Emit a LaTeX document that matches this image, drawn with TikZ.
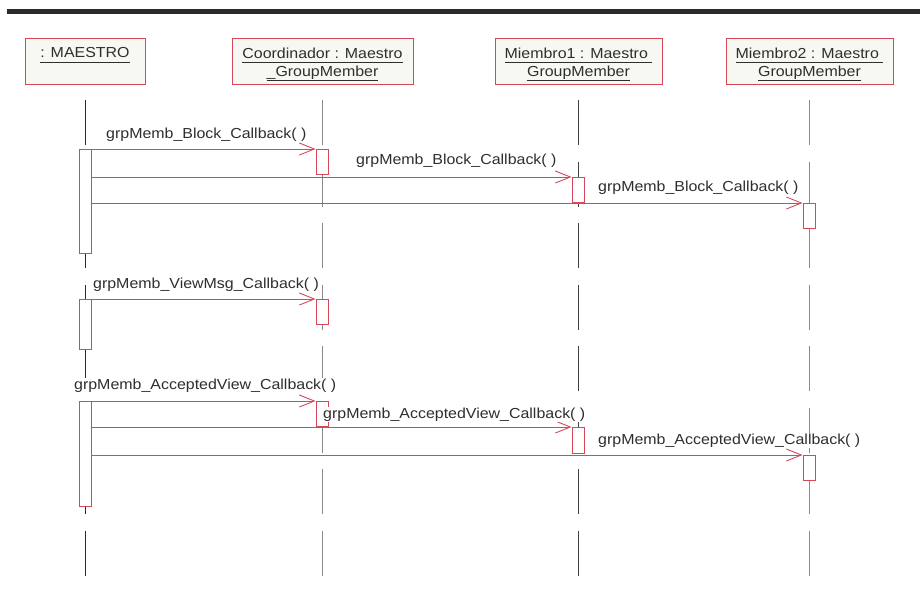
\documentclass[tikz,border=0pt]{standalone}
\usepackage{fontspec}
\setmainfont{Liberation Sans}[FakeStretch=1.1]
\usetikzlibrary{arrows.meta}

\definecolor{umlred}{HTML}{D4485A}
\definecolor{boxfill}{HTML}{F8F8F2}
\definecolor{ink}{HTML}{2E2E2E}
\definecolor{barcol}{HTML}{2A2A2A}
\definecolor{lifegray}{HTML}{8A8A8A}
\definecolor{lifedark}{HTML}{404040}

% underline drawn at a fixed depth below the baseline
\newcommand\uln[1]{\setbox0\hbox{#1}\rlap{\rule[-5pt]{\wd0}{0.8pt}}\box0}

\tikzset{
  umltext/.style={font=\fontsize{14.5}{18}\selectfont, text=ink},
  objbox/.style={draw=umlred, fill=boxfill, line width=0.9pt, inner sep=0pt},
  objname/.style={umltext, inner sep=0pt, align=center, anchor=north},
  lifeline/.style={line width=1pt, dash pattern=on 45pt off 16.5pt},
  actbox/.style={draw=umlred, fill=white, line width=0.9pt, inner sep=0pt,
                 minimum width=12pt, anchor=north},
  msg/.style={draw=umlred, line width=0.9pt,
              -{Straight Barb[length=15pt, width=12pt, line width=0.9pt]}},
  msglabel/.style={umltext, fill=white, inner sep=1pt, anchor=base west},
}

\begin{document}
\begin{tikzpicture}[x=1pt, y=-1pt]
  \useasboundingbox (0,0) rectangle (920,592);

  % heading rule
  \fill[barcol] (7,9) rectangle (920,13.5);

  % object boxes
  \node[objbox, minimum width=120pt, minimum height=46pt] (mae) at (85,61) {};
  \node[objbox, minimum width=181pt, minimum height=46pt] (coo) at (322.5,61) {};
  \node[objbox, minimum width=167pt, minimum height=46pt] (mi1) at (578.5,61) {};
  \node[objbox, minimum width=167pt, minimum height=46pt] (mi2) at (809.5,61) {};

  \node[objname] (maeT) at (85,47.5) {\uln{: MAESTRO}};
  \node[objname] (cooT) at (322.5,47.5) {\uln{Coordinador : Maestro}\\\uln{\_GroupMember}};
  \node[objname] (mi1T) at (578.5,47.5) {\uln{Miembro1 : Maestro\ }\\\uln{GroupMember}};
  \node[objname] (mi2T) at (809.5,47.5) {\uln{Miembro2 : Maestro\ }\\\uln{GroupMember}};

  % lifelines
  \coordinate (maeTop) at (85,100);   \coordinate (maeEnd) at (85,576);
  \coordinate (cooTop) at (322,100);  \coordinate (cooEnd) at (322,576);
  \coordinate (mi1Top) at (578,100);  \coordinate (mi1End) at (578,576);
  \coordinate (mi2Top) at (809,100);  \coordinate (mi2End) at (809,576);
  \draw[lifeline, draw=barcol] (maeTop) -- (maeEnd);
  \draw[lifeline, draw=lifegray] (cooTop) -- (cooEnd);
  \draw[lifeline, draw=lifedark] (mi1Top) -- (mi1End);
  \draw[lifeline, draw=lifegray] (mi2Top) -- (mi2End);

  % activation bars
  \node[actbox, minimum height=104pt] (maeA1) at (85,149) {};
  \node[actbox, minimum height=50pt]  (maeA2) at (85,299) {};
  \node[actbox, minimum height=105pt] (maeA3) at (85,401) {};
  \node[actbox, minimum height=25pt]  (cooA1) at (322,149) {};
  \node[actbox, minimum height=25pt]  (cooA2) at (322,299) {};
  \node[actbox, minimum height=25pt]  (cooA3) at (322,401) {};
  \node[actbox, minimum height=25pt]  (mi1A1) at (578,177) {};
  \node[actbox, minimum height=26pt]  (mi1A2) at (578,427) {};
  \node[actbox, minimum height=25pt]  (mi2A1) at (809,203) {};
  \node[actbox, minimum height=25pt]  (mi2A2) at (809,455) {};

  % messages
  \draw[msg] (maeA1.north east) -- (cooA1.north west);
  \draw[msg] (maeA1.east |- mi1A1.north) -- (mi1A1.north west);
  \draw[msg] (maeA1.east |- mi2A1.north) -- (mi2A1.north west);
  \draw[msg] (maeA2.north east) -- (cooA2.north west);
  \draw[msg] (maeA3.north east) -- (cooA3.north west);
  \draw[msg] (maeA3.east |- mi1A2.north) -- (mi1A2.north west);
  \draw[msg] (maeA3.east |- mi2A2.north) -- (mi2A2.north west);

  % message labels
  \node[msglabel] (l1) at (105,138) {grpMemb\_Block\_Callback( )};
  \node[msglabel] (l2) at (355,164) {grpMemb\_Block\_Callback( )};
  \node[msglabel] (l3) at (597,191) {grpMemb\_Block\_Callback( )};
  \node[msglabel] (l4) at (92,288)  {grpMemb\_ViewMsg\_Callback( )};
  \node[msglabel] (l5) at (73,389)  {grpMemb\_AcceptedView\_Callback( )};
  \node[msglabel] (l6) at (322,418) {grpMemb\_AcceptedView\_Callback( )};
  \node[msglabel] (l7) at (597,444) {grpMemb\_AcceptedView\_Callback( )};
\end{tikzpicture}
\end{document}
